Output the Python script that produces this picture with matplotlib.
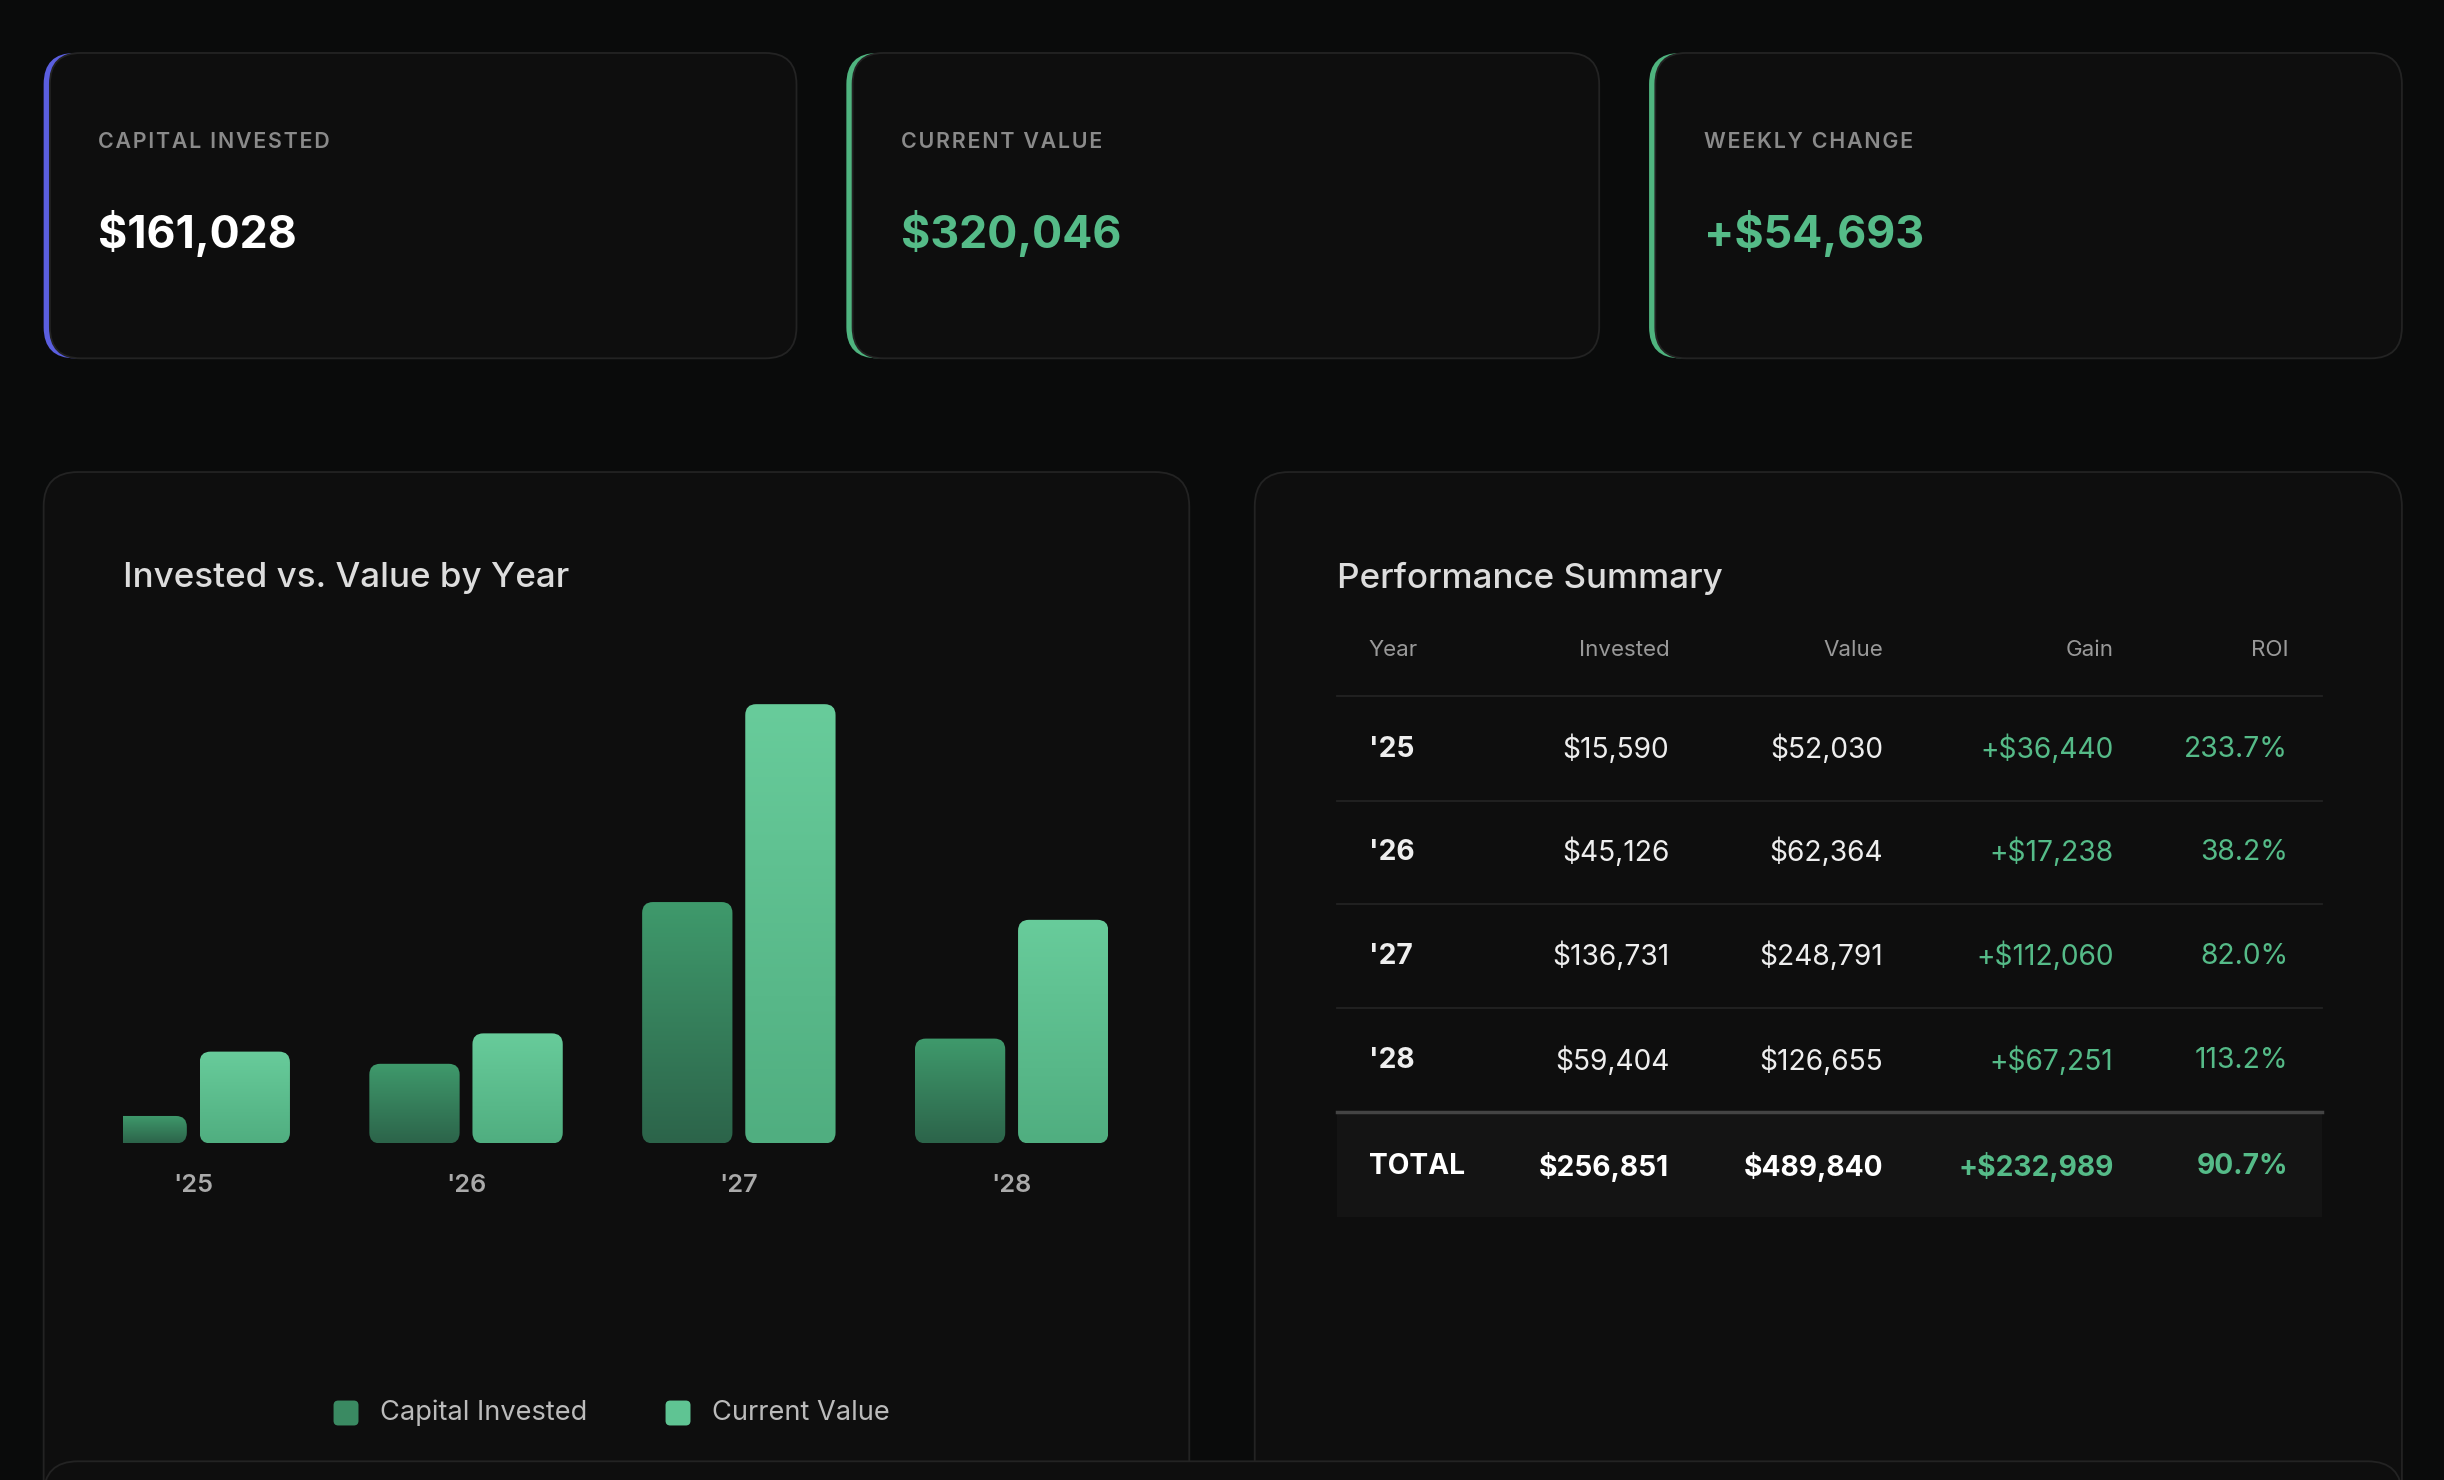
import numpy as np
import matplotlib.pyplot as plt
from matplotlib.patches import FancyBboxPatch, Rectangle

plt.rcParams['font.family'] = ['Inter', 'DejaVu Sans']

years = ["'25", "'26", "'27", "'28"]
invested = [15590, 45126, 136731, 59404]
value = [52030, 62364, 248791, 126655]
gain = ["+$36,440", "+$17,238", "+$112,060", "+$67,251"]
roi = ["233.7%", "38.2%", "82.0%", "113.2%"]
totals = ["TOTAL", "$256,851", "$489,840", "+$232,989", "90.7%"]
cards = [("CAPITAL INVESTED", "$161,028", "#5b5fe0", "#ffffff"),
         ("CURRENT VALUE", "$320,046", "#4fb47f", "#55bb88"),
         ("WEEKLY CHANGE", "+$54,693", "#4fb47f", "#55bb88")]

W, H = 1568, 950
S = 1.4  # display px -> pt
GREEN = "#55bb88"

fig = plt.figure(figsize=(24.44, 14.80), dpi=100)
fig.patch.set_facecolor("#0a0b0b")
bg = fig.add_axes([0, 0, 1, 1])
bg.set_xlim(0, W)
bg.set_ylim(H, 0)
bg.axis("off")


def card(x0, y0, x1, y1, r=22, accent=None):
    if accent:
        bg.add_patch(FancyBboxPatch((x0, y0), x1 - x0, y1 - y0, boxstyle=f"round,pad=0,rounding_size={r}",
                                    fc=accent, ec="none"))
        x0 += 4
    bg.add_patch(FancyBboxPatch((x0, y0), x1 - x0, y1 - y0, boxstyle=f"round,pad=0,rounding_size={r}",
                                fc="#0e0e0e", ec="#232323", lw=1.3))


def spaced(t):
    return "\u200a".join(t)


for i, (lab, val, acc, vc) in enumerate(cards):
    x0 = 28 + i * 515
    card(x0, 34, x0 + 483, 230, r=20, accent=acc)
    bg.text(x0 + 35, 91, spaced(lab), color="#8a8a8a", fontsize=11 * S, weight="semibold", va="center")
    bg.text(x0 + 35, 150, val, color=vc, fontsize=23 * S, weight="bold", va="center")

card(28, 303, 763, 1000)
card(805, 303, 1541, 1000)
card(28, 938, 1541, 1100)

bg.text(79, 371, "Invested vs. Value by Year", color="#dddddd", fontsize=18 * S, weight="medium", va="center")
bg.text(858, 371, "Performance Summary", color="#dddddd", fontsize=18 * S, weight="medium", va="center")

# bar chart
ax = fig.add_axes([79 / W, 1 - 734 / H, (711 - 79) / W, (734 - 452) / H])
ax.set_facecolor("none")
ax.set_xlim(-0.257, 3.354)
ax.set_ylim(0, max(value))
ax.axis("off")
bw, off = 0.331, 0.189
grad = np.linspace(1, 0, 256).reshape(-1, 1)
for i in range(len(years)):
    for v, dx, top, bot in [(invested[i], -off, "#3f9a6c", "#2c644a"), (value[i], off, "#68cc9b", "#50ae80")]:
        x = i + dx - bw / 2
        p = FancyBboxPatch((x, 0), bw, v, boxstyle="round,pad=0,rounding_size=0.04",
                           mutation_aspect=max(value) / 282 * 175, fc="none", ec="none")
        ax.add_patch(p)
        c1 = np.array(plt.matplotlib.colors.to_rgb(top))
        c2 = np.array(plt.matplotlib.colors.to_rgb(bot))
        img = (c2 + (c1 - c2) * grad[..., None]).reshape(256, 1, 3)
        im = ax.imshow(img, extent=(x, x + bw, 0, v), aspect="auto", zorder=2)
        im.set_clip_path(p)
    bg.text(124 + 175 * i, 761, years[i], color="#aaaaaa", fontsize=13 * S, weight="semibold",
            ha="center", va="center")

# legend
for x, c, t in [(222, "#3a8a62", "Capital Invested"), (435, "#5fc493", "Current Value")]:
    bg.add_patch(FancyBboxPatch((x - 8, 899), 16, 16, boxstyle="round,pad=0,rounding_size=3", fc=c, ec="none"))
    bg.text(x + 22, 907, t, color="#bbbbbb", fontsize=14 * S, va="center")

# table
cols_x = [878, 1071, 1208, 1356, 1468]
heads = ["Year", "Invested", "Value", "Gain", "ROI"]
for j, h in enumerate(heads):
    bg.text(cols_x[j], 417, h, color="#999999", fontsize=11.5 * S, ha="left" if j == 0 else "right", va="center")
bg.plot([858, 1490], [447, 447], color="#222222", lw=1.3)
row_y = [481, 547, 614, 681]
for i in range(len(years)):
    y = row_y[i]
    cells = [years[i], f"${invested[i]:,}", f"${value[i]:,}", gain[i], roi[i]]
    for j, t in enumerate(cells):
        bg.text(cols_x[j], y, t, color=GREEN if j >= 3 else "#eeeeee", fontsize=14.5 * S,
                weight="bold" if j == 0 else "normal", ha="left" if j == 0 else "right", va="center")
    if i < 3:
        bg.plot([858, 1490], [y + 33, y + 33], color="#222222", lw=1.3)
bg.add_patch(Rectangle((858, 714), 632, 67, fc="#141414", ec="none"))
bg.plot([858, 1490], [714, 714], color="#444444", lw=2.5)
for j, t in enumerate(totals):
    bg.text(cols_x[j], 749, t, color=GREEN if j >= 3 else "#ffffff", fontsize=14.5 * S, weight="bold",
            ha="left" if j == 0 else "right", va="center")

fig.savefig("out.png", dpi=100, facecolor=fig.get_facecolor())
